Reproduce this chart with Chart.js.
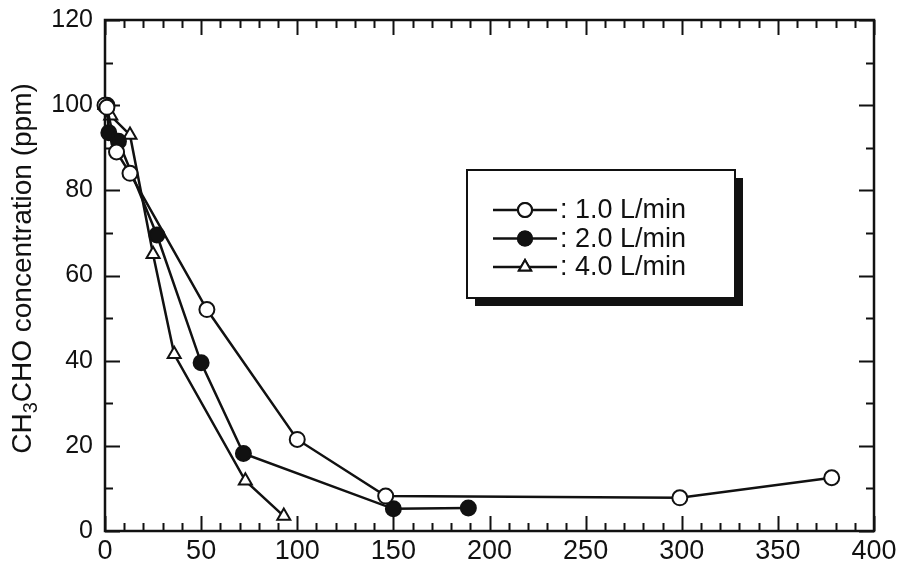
<!DOCTYPE html>
<html>
<head>
<meta charset="utf-8">
<script src="https://cdn.jsdelivr.net/npm/chart.js@4.4.1/dist/chart.umd.min.js"></script>
<style>
  html, body { margin: 0; padding: 0; background: #fff; }
  #wrap { width: 902px; height: 569px; }
</style>
</head>
<body>
<div id="wrap"><canvas id="chart" width="902" height="569"></canvas></div>
<script>
'use strict';

// time (min) vs CH3CHO concentration (ppm)
const time1 = [0, 1, 6, 13, 53, 100, 146, 299, 378];
const conc1 = [100, 99.5, 89, 84, 52, 21.5, 8.2, 7.8, 12.5];

const time2 = [1, 2, 7, 27, 50, 72, 150, 189];
const conc2 = [100, 93.5, 91.5, 69.5, 39.5, 18.2, 5.2, 5.4];

const time4 = [0, 3, 13, 25, 36, 73, 93];
const conc4 = [100, 97.5, 93, 65, 41.5, 11.8, 3.5];

const seriesLabels = [': 1.0 L/min', ': 2.0 L/min', ': 4.0 L/min'];

const X_MIN = 0, X_MAX = 400, X_STEP = 50, X_MINOR = 10;
const Y_MIN = 0, Y_MAX = 120, Y_STEP = 20, Y_MINOR = 10;

const INK = '#111';
const FONT = '"Liberation Sans", Arial, sans-serif';

function toPoints(xs, ys) {
  return xs.map((x, i) => ({ x, y: ys[i] }));
}

function seriesStyle(fill, shape) {
  return {
    borderColor: INK,
    borderWidth: 2.5,
    pointStyle: shape,
    pointRadius: 7.5,
    pointHoverRadius: 7.5,
    pointBorderWidth: 2,
    pointBorderColor: INK,
    pointBackgroundColor: fill,
    tension: 0,
    clip: false,
  };
}

// frame with inward major and minor ticks on all four sides
const frameTicks = {
  id: 'frameTicks',
  beforeDatasetsDraw(chart) {
    const { ctx, chartArea: a, scales: { x, y } } = chart;
    ctx.save();
    ctx.strokeStyle = INK;
    ctx.lineCap = 'butt';

    ctx.lineWidth = 2;
    for (let v = X_MIN; v <= X_MAX; v += X_MINOR) {
      const px = Math.round(x.getPixelForValue(v)) + 0.5;
      const len = v % X_STEP === 0 ? 15 : 8;
      ctx.beginPath();
      ctx.moveTo(px, a.bottom); ctx.lineTo(px, a.bottom - len);
      ctx.moveTo(px, a.top); ctx.lineTo(px, a.top + len);
      ctx.stroke();
    }
    for (let v = Y_MIN; v <= Y_MAX; v += Y_MINOR) {
      const py = Math.round(y.getPixelForValue(v)) + 0.5;
      const len = v % Y_STEP === 0 ? 15 : 8;
      ctx.beginPath();
      ctx.moveTo(a.left, py); ctx.lineTo(a.left + len, py);
      ctx.moveTo(a.right, py); ctx.lineTo(a.right - len, py);
      ctx.stroke();
    }

    ctx.lineWidth = 2.5;
    ctx.strokeRect(a.left, a.top, a.right - a.left, a.bottom - a.top);
    ctx.restore();
  },
};

// rotated y title with the subscript 3
const yTitle = {
  id: 'yTitle',
  afterDraw(chart) {
    const { ctx, chartArea: a } = chart;
    const size = 28, sub = 20;
    const parts = [
      { t: 'CH', f: size, dy: 0 },
      { t: '3', f: sub, dy: 8 },
      { t: 'CHO concentration (ppm)', f: size, dy: 0 },
    ];
    ctx.save();
    let total = 0;
    parts.forEach(p => { ctx.font = `${p.f}px ${FONT}`; p.w = ctx.measureText(p.t).width; total += p.w; });
    ctx.translate(23, (a.top + a.bottom) / 2 - 7);
    ctx.rotate(-Math.PI / 2);
    ctx.fillStyle = INK;
    ctx.textBaseline = 'middle';
    ctx.textAlign = 'left';
    let cx = -total / 2;
    parts.forEach(p => {
      ctx.font = `${p.f}px ${FONT}`;
      ctx.fillText(p.t, cx, p.dy);
      cx += p.w;
    });
    ctx.restore();
  },
};

// boxed legend with drop shadow
const boxLegend = {
  id: 'boxLegend',
  afterDraw(chart) {
    const { ctx, chartArea: a } = chart;
    const bx = a.left + 362, by = a.top + 150, bw = 268, bh = 128;
    ctx.save();
    ctx.fillStyle = INK;
    ctx.fillRect(bx + 8, by + 8, bw, bh);
    ctx.fillStyle = '#fff';
    ctx.fillRect(bx, by, bw, bh);
    ctx.strokeStyle = INK;
    ctx.lineWidth = 2;
    ctx.strokeRect(bx, by, bw, bh);

    chart.data.datasets.forEach((ds, i) => {
      const ry = by + 40 + i * 28.5;
      const lx0 = bx + 26, lx1 = bx + 90, mx = bx + 58;
      ctx.strokeStyle = INK;
      ctx.lineWidth = 2.5;
      ctx.beginPath();
      ctx.moveTo(lx0, ry); ctx.lineTo(lx1, ry);
      ctx.stroke();
      ctx.lineWidth = 2;
      ctx.fillStyle = ds.pointBackgroundColor;
      ctx.strokeStyle = INK;
      Chart.helpers.drawPoint(ctx, { pointStyle: ds.pointStyle, radius: 7, borderWidth: 2 }, mx, ry);
      ctx.fill();
      ctx.stroke();
      ctx.fillStyle = INK;
      ctx.font = `27px ${FONT}`;
      ctx.textBaseline = 'middle';
      ctx.fillText(ds.label, bx + 93, ry + 1);
    });
    ctx.restore();
  },
};

new Chart(document.getElementById('chart'), {
  type: 'line',
  data: {
    datasets: [
      { label: seriesLabels[0], data: toPoints(time1, conc1), ...seriesStyle('#fff', 'circle') },
      { label: seriesLabels[1], data: toPoints(time2, conc2), ...seriesStyle(INK, 'circle') },
      { label: seriesLabels[2], data: toPoints(time4, conc4), ...seriesStyle('#fff', 'triangle') },
    ],
  },
  options: {
    responsive: false,
    animation: false,
    devicePixelRatio: 1,
    layout: { padding: { top: 20, right: 28, left: 0, bottom: 0 } },
    plugins: {
      legend: { display: false },
      tooltip: { enabled: false },
    },
    scales: {
      x: {
        type: 'linear',
        min: X_MIN, max: X_MAX,
        ticks: { stepSize: X_STEP, color: INK, font: { family: FONT, size: 27 }, padding: 4, maxRotation: 0 },
        grid: { display: false, drawTicks: false },
        border: { display: false },
        afterFit(s) { s.height = 38; s.paddingLeft = 0; s.paddingRight = 0; },
      },
      y: {
        min: Y_MIN, max: Y_MAX,
        ticks: { stepSize: Y_STEP, color: INK, font: { family: FONT, size: 25 }, padding: 12 },
        grid: { display: false, drawTicks: false },
        border: { display: false },
        afterFit(s) { s.width = 105; s.paddingTop = 0; s.paddingBottom = 0; },
      },
    },
  },
  plugins: [frameTicks, yTitle, boxLegend],
});
</script>
</body>
</html>
